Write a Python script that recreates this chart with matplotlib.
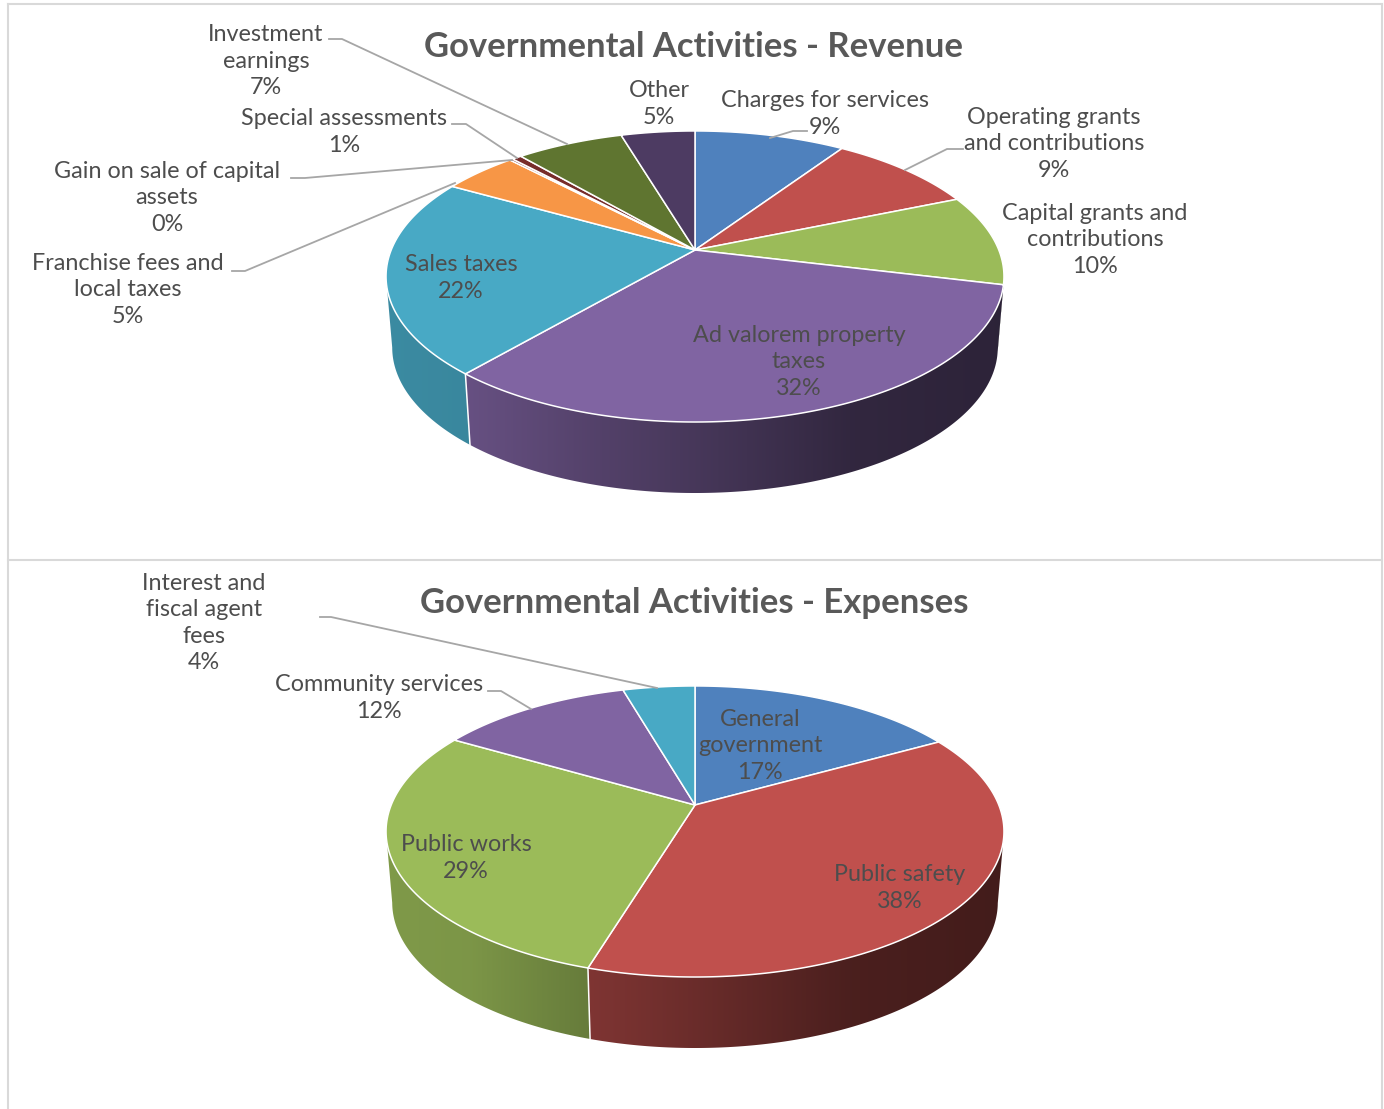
import matplotlib
matplotlib.use('Agg')
import matplotlib.pyplot as plt
from matplotlib.patches import Polygon
import numpy as np

plt.rcParams['font.family'] = ['Lato', 'DejaVu Sans']

revenue_names = ['Charges for services', 'Operating grants\nand contributions',
                 'Capital grants and\ncontributions', 'Ad valorem property\ntaxes',
                 'Sales taxes', 'Franchise fees and\nlocal taxes',
                 'Gain on sale of capital\nassets', 'Special assessments',
                 'Investment\nearnings', 'Other']
revenue_values = [9.4, 9.3, 10.1, 32.49, 21.9, 4.7, 0.2, 0.6, 6.7, 4.61]
revenue_colors = ['#4f81bd', '#c0504d', '#9bbb59', '#8064a2', '#48a9c5',
                  '#f79646', '#772c2a', '#772c2a', '#5f7530', '#4d3b62']

expense_names = ['General\ngovernment', 'Public safety', 'Public works',
                 'Community services', 'Interest and\nfiscal agent\nfees']
expense_values = [16.9, 37.8, 28.7, 12.11, 4.49]
expense_colors = ['#4f81bd', '#c0504d', '#9bbb59', '#8064a2', '#48a9c5']

# label centres in pixels
revenue_label_pos = [(825, 114), (1054, 144), (1095, 240), (799, 362), (461, 278),
                     (128, 290), (167, 198), (344, 132), (266, 61), (659, 104)]
expense_label_pos = [(760, 746), (900, 888), (466, 858), (379, 698), (204, 623)]

revenue_leaders = [[(807, 131), (793, 131), (770, 138)],
                   [(963, 149), (947, 149), (905, 170)],
                   [(232, 271), (245, 271), (455, 183)],
                   [(291, 178), (305, 178), (512, 160)],
                   [(452, 124), (466, 124), (517, 158)],
                   [(329, 39), (342, 39), (567, 144)]]
expense_leaders = [[(488, 691), (501, 691), (531, 709)],
                   [(320, 617), (331, 617), (657, 688)]]

RADIUS_X = 303.8
RADIUS_Y = 140.7
PERSPECTIVE = 0.182
DEPTH = 71
TEXT_COLOR = '#4d4d4d'
LEADER_COLOR = '#a6a6a6'


def rim(theta, cx, cy, scale=1.0, drop=0):
    # angle runs clockwise from twelve o'clock, far side of the disc is smaller
    x, y = np.sin(theta), np.cos(theta)
    w = 1 + PERSPECTIVE * y
    return np.column_stack([cx + scale * RADIUS_X * x / w, cy + drop - RADIUS_Y * y / w])


def wall_gradient(color):
    # horizontal light falloff across the side of the pie
    xs = np.arange(1384)
    shade = np.interp(xs, [390, 470, 590, 700, 850, 1000], [0.82, 0.80, 0.66, 0.55, 0.39, 0.35])
    base = np.array(matplotlib.colors.to_rgb(color))
    return (shade[:, None] * base)[None, :, :]


def draw_pie(ax, values, colors, cx, cy):
    edges = np.cumsum([0] + list(values)) / sum(values) * 2 * np.pi

    for i, color in enumerate(colors):
        theta = np.linspace(edges[i], edges[i + 1], max(int((edges[i + 1] - edges[i]) * 200), 2))
        # only the part below the widest point of the rim faces the viewer
        theta = theta[np.cos(theta) < -PERSPECTIVE]
        if len(theta) < 2:
            continue
        top = rim(theta, cx, cy)
        bottom = rim(theta, cx, cy, 0.98, DEPTH)
        wall = Polygon(np.vstack([top, bottom[::-1]]), closed=True, transform=ax.transData)
        im = ax.imshow(wall_gradient(color), extent=[0, 1384, 1109, 0], aspect='auto',
                       interpolation='bilinear', zorder=2)
        im.set_clip_path(wall)

    for i, color in enumerate(colors):
        theta = np.linspace(edges[i], edges[i + 1], max(int((edges[i + 1] - edges[i]) * 200), 2))
        face = np.vstack([[cx, cy], rim(theta, cx, cy)])
        ax.fill(face[:, 0], face[:, 1], facecolor=color, edgecolor='white',
                linewidth=1.1, joinstyle='round', zorder=3)

    # separators on the front wall
    for edge in edges:
        if np.cos(edge) < -0.5:
            top = rim(np.array([edge]), cx, cy)[0]
            bottom = rim(np.array([edge]), cx, cy, 0.98, DEPTH)[0]
            ax.plot([top[0], bottom[0]], [top[1], bottom[1]], color='white', lw=1.1, zorder=3)


def draw_labels(ax, names, values, positions):
    for name, value, (x, y) in zip(names, values, positions):
        ax.text(x, y, f'{name}\n{value:.0f}%', ha='center', va='center', fontsize=16.8,
                color=TEXT_COLOR, linespacing=1.32, zorder=5)


def draw_leaders(ax, leaders):
    for points in leaders:
        xs, ys = zip(*points)
        ax.plot(xs, ys, color=LEADER_COLOR, lw=1.3, zorder=4)


fig = plt.figure(figsize=(13.84, 11.09), dpi=100)
ax = fig.add_axes([0, 0, 1, 1])
ax.axis('off')

# panel frames
for xs, ys in [((8, 8), (4, 1109)), ((1382, 1382), (4, 1109)), ((8, 1382), (4, 4)), ((8, 1382), (560, 560))]:
    ax.plot(xs, ys, color='#d9d9d9', lw=1.5, zorder=1)

draw_pie(ax, revenue_values, revenue_colors, 695, 250)
draw_pie(ax, expense_values, expense_colors, 695, 805)
draw_leaders(ax, revenue_leaders)
draw_leaders(ax, expense_leaders)
draw_labels(ax, revenue_names, revenue_values, revenue_label_pos)
draw_labels(ax, expense_names, expense_values, expense_label_pos)

ax.text(694, 47, 'Governmental Activities - Revenue', ha='center', va='center',
        fontsize=24.9, fontweight='bold', color='#595959', zorder=5)
ax.text(694, 603, 'Governmental Activities - Expenses', ha='center', va='center',
        fontsize=24.9, fontweight='bold', color='#595959', zorder=5)

ax.set_xlim(0, 1384)
ax.set_ylim(1109, 0)

fig.savefig('out.png', dpi=100)
